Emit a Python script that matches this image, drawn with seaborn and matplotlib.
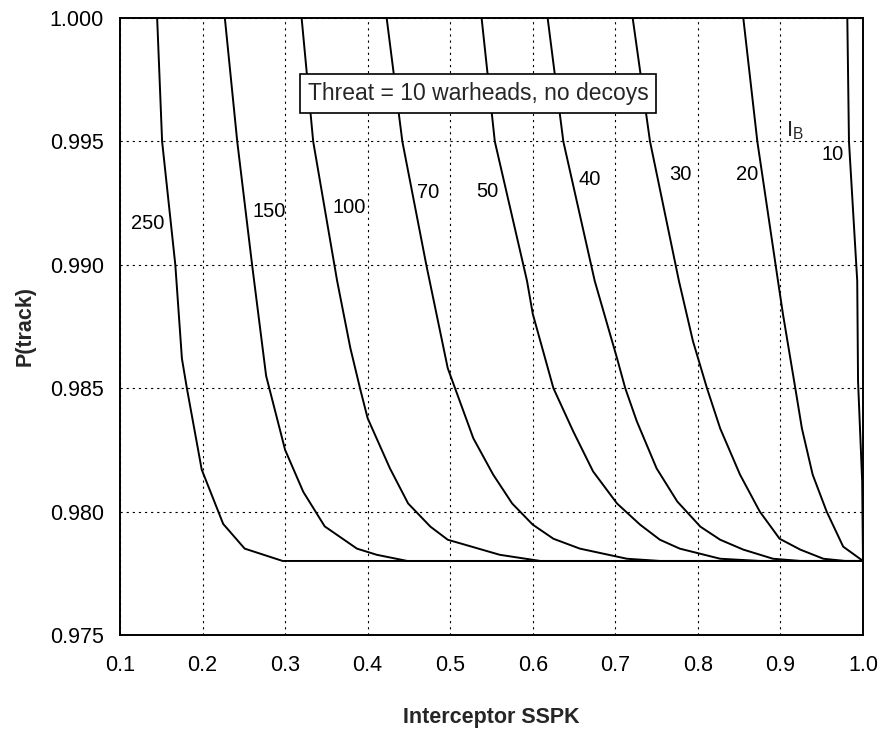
import matplotlib
matplotlib.use("Agg")
import matplotlib.pyplot as plt
import matplotlib.ticker as mticker
import seaborn as sns
import pandas as pd

# ---- data ----
ib_levels = [250, 150, 100, 70, 50, 40, 30, 20, 10]

sspk_250 = [0.145, 0.151, 0.167, 0.175, 0.181, 0.199, 0.225, 0.251, 0.297, 0.322, 1.0]
ptrk_250 = [1.000, 0.995, 0.990, 0.9862, 0.9850, 0.9817, 0.9795, 0.9785, 0.9780, 0.9780, 0.9780]

sspk_150 = [0.227, 0.242, 0.260, 0.277, 0.300, 0.322, 0.348, 0.387, 0.411, 0.448, 1.0]
ptrk_150 = [1.000, 0.995, 0.990, 0.9855, 0.9825, 0.9808, 0.9794, 0.9785, 0.97825, 0.9780, 0.9780]

sspk_100 = [0.320, 0.334, 0.363, 0.379, 0.391, 0.400, 0.427, 0.449, 0.476, 0.497, 0.560, 0.609, 1.0]
ptrk_100 = [1.000, 0.995, 0.98935, 0.98663, 0.98496, 0.98378, 0.98175, 0.98033, 0.97939, 0.97886, 0.97825, 0.9780, 0.9780]

sspk_70 = [0.423, 0.442, 0.471, 0.497, 0.528, 0.552, 0.575, 0.600, 0.625, 0.657, 0.714, 0.754, 1.0]
ptrk_70 = [1.000, 0.995, 0.990, 0.98581, 0.98297, 0.98150, 0.98033, 0.97947, 0.97890, 0.97850, 0.97809, 0.9780, 0.9780]

sspk_50 = [0.538, 0.554, 0.593, 0.600, 0.625, 0.649, 0.673, 0.702, 0.730, 0.754, 0.778, 0.827, 0.875, 1.0]
ptrk_50 = [1.000, 0.995, 0.98935, 0.98801, 0.98500, 0.98325, 0.98163, 0.98033, 0.97947, 0.97886, 0.97850, 0.97809, 0.9780, 0.9780]

sspk_40 = [0.618, 0.637, 0.675, 0.702, 0.712, 0.726, 0.750, 0.775, 0.803, 0.827, 0.855, 0.891, 0.924, 1.0]
ptrk_40 = [1.000, 0.995, 0.98935, 0.98622, 0.98500, 0.98366, 0.98175, 0.98041, 0.97939, 0.97886, 0.97846, 0.97809, 0.9780, 0.9780]

sspk_30 = [0.721, 0.742, 0.777, 0.794, 0.811, 0.827, 0.851, 0.875, 0.899, 0.924, 0.952, 0.978, 1.0]
ptrk_30 = [1.000, 0.995, 0.98935, 0.98691, 0.98500, 0.98337, 0.98150, 0.98000, 0.97890, 0.97846, 0.97809, 0.9780, 0.9780]

sspk_20 = [0.855, 0.872, 0.897, 0.903, 0.918, 0.926, 0.939, 0.956, 0.976, 1.0]
ptrk_20 = [1.000, 0.995, 0.98935, 0.98801, 0.98500, 0.98337, 0.98150, 0.98000, 0.97858, 0.9780]

sspk_10 = [0.981, 0.983, 0.993, 0.994, 0.999, 1.0]
ptrk_10 = [1.000, 0.995, 0.98935, 0.98528, 0.98122, 0.9780]

curve_x = [sspk_250, sspk_150, sspk_100, sspk_70, sspk_50, sspk_40, sspk_30, sspk_20, sspk_10]
curve_y = [ptrk_250, ptrk_150, ptrk_100, ptrk_70, ptrk_50, ptrk_40, ptrk_30, ptrk_20, ptrk_10]

curve_labels = ["250", "150", "100", "70", "50", "40", "30", "20", "10"]
x_ticks = [0.1, 0.2, 0.3, 0.4, 0.5, 0.6, 0.7, 0.8, 0.9, 1.0]
y_ticks = [0.975, 0.980, 0.985, 0.990, 0.995, 1.000]
box_text = "Threat = 10 warheads, no decoys"

# label anchor positions (layout)
label_pos = [(0.134, 0.99169), (0.2805, 0.99214), (0.3774, 0.99234), (0.4731, 0.99291),
             (0.5445, 0.99295), (0.6693, 0.99344), (0.7783, 0.99364), (0.8594, 0.99364),
             (0.9636, 0.99445)]

# ---- build long table ----
rows = []
for ib, xs, ys in zip(ib_levels, curve_x, curve_y):
    for i, (xv, yv) in enumerate(zip(xs, ys)):
        rows.append({"IB": ib, "order": i, "sspk": xv, "ptrack": yv})
df = pd.DataFrame(rows)

sns.set_style("white")
plt.rcParams["font.family"] = ["Liberation Sans", "DejaVu Sans"]

fig = plt.figure(figsize=(8.84, 7.30), dpi=100)
ax = fig.add_axes([120 / 884, 1 - 635 / 730, (863 - 120) / 884, (635 - 18) / 730])

sns.lineplot(data=df, x="sspk", y="ptrack", units="IB", estimator=None, sort=False,
             color="black", linewidth=1.4, ax=ax, legend=False)

ax.set_xlim(0.1, 1.0)
ax.set_ylim(0.975, 1.000)
ax.set_xticks(x_ticks)
ax.set_yticks(y_ticks)
ax.xaxis.set_major_formatter(mticker.FormatStrFormatter("%.1f"))
ax.yaxis.set_major_formatter(mticker.FormatStrFormatter("%.3f"))
ax.tick_params(axis="both", direction="inout", length=11, width=1.2, color="black",
               labelsize=15.5, labelcolor="black")
ax.tick_params(axis="x", pad=9)
ax.tick_params(axis="y", pad=6)

ax.grid(True, color="black", linestyle=(0, (2, 3.5)), linewidth=0.8)
for s in ax.spines.values():
    s.set_visible(True)
    s.set_color("black")
    s.set_linewidth(1.4)

ax.set_xlabel("Interceptor SSPK", fontsize=15.5, fontweight="bold", labelpad=22)
ax.set_ylabel("P(track)", fontsize=15.5, fontweight="bold", labelpad=10)

for txt, (lx, ly) in zip(curve_labels, label_pos):
    ax.text(lx, ly, txt, fontsize=14.5, ha="center", va="center", color="black")

ax.text(0.9176, 0.99542, r"I$_\mathregular{B}$", fontsize=16, ha="center", va="center")

ax.text(0.5336, 0.99696, box_text, fontsize=16.5, ha="center", va="center",
        bbox=dict(boxstyle="square,pad=0.35", facecolor="white", edgecolor="black", linewidth=1.2))

fig.savefig("out.png", dpi=100)
